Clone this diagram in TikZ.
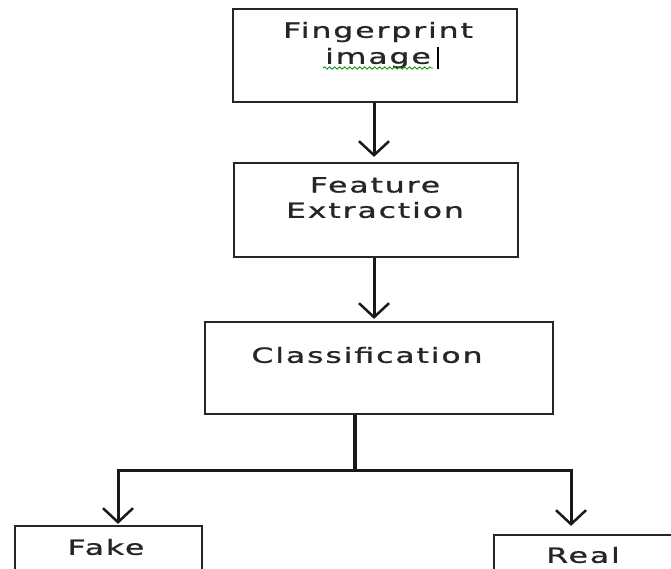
\documentclass[tikz,border=0pt]{standalone}
\usepackage{fontspec}
\setmainfont{DejaVu Sans}[LetterSpace=6,FakeBold=0.8]
\usetikzlibrary{arrows.meta,decorations.pathmorphing}
\newcommand{\wtxt}[1]{\scalebox{1.5}[1]{#1}}
\begin{document}
\begin{tikzpicture}[x=1pt,y=-1pt,
  boxst/.style={draw=black!85,line width=2.2pt,rectangle,inner sep=0pt},
  txt/.style={text=black!85,font=\fontsize{21}{24}\selectfont,inner sep=0pt,anchor=center},
  arr/.style={draw=black!90,line width=3pt,-{Straight Barb[length=14pt,width=30pt,line width=2.5pt]}},
  ln/.style={draw=black!90,line width=3pt}]
\useasboundingbox (0,0) rectangle (671,569);
\clip (0,0) rectangle (671,569);
\fill[white] (0,0) rectangle (671,569);
% boxes
\node[boxst,minimum width=284pt,minimum height=93pt] (fp) at (375,55.5) {};
\node[boxst,minimum width=284pt,minimum height=94pt] (fe) at (376,210) {};
\node[boxst,minimum width=348pt,minimum height=92pt] (cls) at (379,368) {};
\node[boxst,minimum width=187pt,minimum height=80pt] (fake) at (108.5,566) {};
\node[boxst,minimum width=200pt,minimum height=80pt] (real) at (594,575) {};
% texts
\node[txt] (t1) at (378,32) {\wtxt{Fingerprint}};
\node[txt] (t2) at (378,58) {\wtxt{image}};
\node[txt] (t3) at (375,185) {\wtxt{Feature}};
\node[txt] (t4) at (375,210) {\wtxt{Extraction}};
\node[txt] (t5) at (367,355) {\wtxt{Classification}};
\node[txt] (t6) at (106,547) {\wtxt{Fake}};
\node[txt] (t7) at (583,555) {\wtxt{Real}};
% spell squiggle and cursor
\coordinate (sq1) at (323,68);
\coordinate (sq2) at (433,68);
\draw[green!55!black,line width=0.8pt,decorate,decoration={snake,amplitude=1.2pt,segment length=5pt}] (sq1) -- (sq2);
\coordinate (cu1) at (438,47);
\coordinate (cu2) at (438,69);
\draw[black,line width=2.5pt] (cu1) -- (cu2);
% connectors
\draw[arr,shorten >=5pt] (fp.south -| 374,0) -- (fe.north -| 374,0);
\draw[arr,shorten >=2pt] (fe.south -| 374,0) -- (cls.north -| 374,0);
\coordinate (j) at (355,470);
\coordinate (jl) at (118,470);
\coordinate (jr) at (571,470);
\draw[ln,line width=4pt] (cls.south -| j) -- (j);
\draw[ln] ([xshift=-1.5pt]jl) -- ([xshift=1.5pt]jr);
\draw[arr,shorten >=1pt] (jl) -- (fake.north -| jl);
\draw[arr,shorten >=8pt] (jr) -- (real.north -| jr);
\end{tikzpicture}
\end{document}
